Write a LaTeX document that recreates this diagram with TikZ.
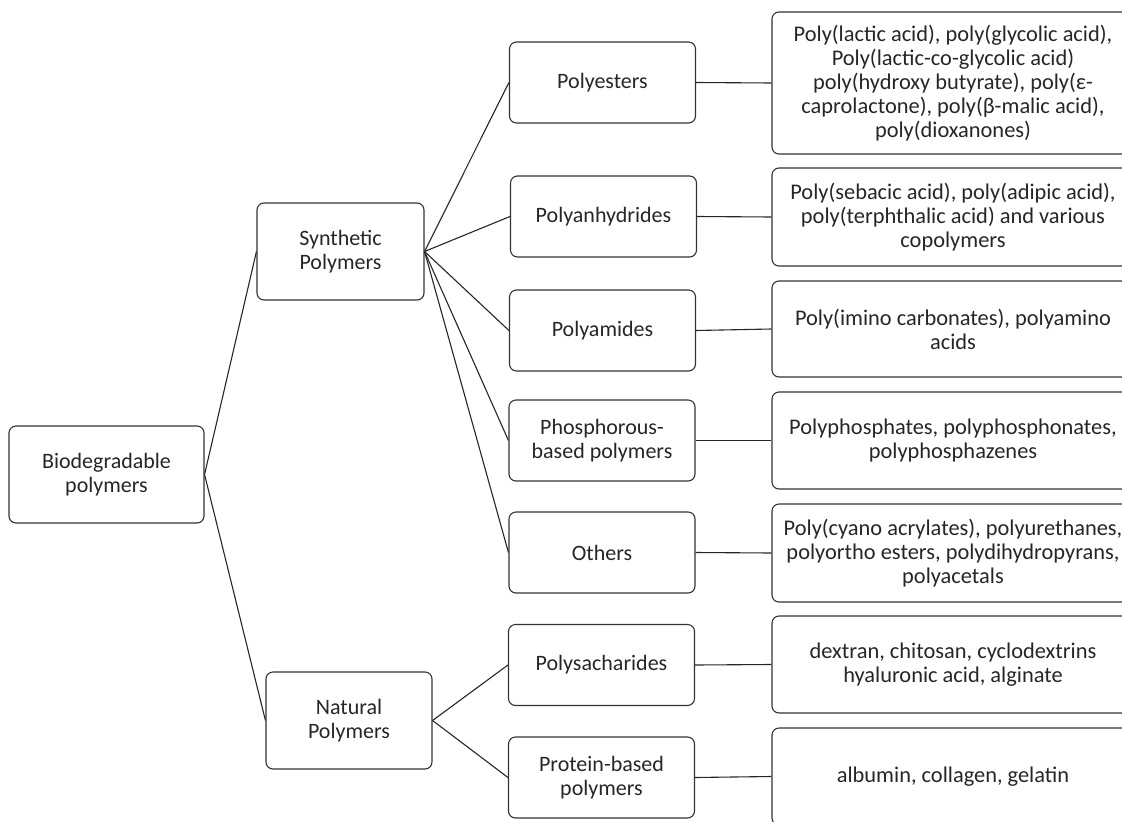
\documentclass[tikz,border=0pt]{standalone}
\usepackage{fontspec}
\setmainfont{Carlito}
\begin{document}
\begin{tikzpicture}[x=1pt,y=-1pt,
  box/.style={draw=black!80, line width=1.1pt, rounded corners=7pt, align=center, text=black!85, inner sep=0pt, font=\fontsize{22}{24}\selectfont},
  lbox/.style={box, minimum height=97pt},
  mbox/.style={box, minimum width=186pt, minimum height=81pt},
  rbox/.style={box, minimum width=362pt, minimum height=97pt, font=\fontsize{22.4}{24}\selectfont},
  link/.style={draw=black!85, line width=1.1pt}]
\useasboundingbox (0,0) rectangle (1122,822);
% left column
\node[lbox, minimum width=195pt] (bio) at (106.5,474.5) {Biodegradable\\polymers};
\node[lbox, minimum width=167pt] (syn) at (340.5,251.5) {Synthetic\\Polymers};
\node[lbox, minimum width=166pt] (nat) at (349,720.5) {Natural\\Polymers};
% middle column
\node[mbox] (m1) at (602.5,82.5) {Polyesters};
\node[mbox] (m2) at (603.5,216.5) {Polyanhydrides};
\node[mbox] (m3) at (602.5,330.5) {Polyamides};
\node[mbox] (m4) at (602,440.5) {Phosphorous-\\based polymers};
\node[mbox] (m5) at (602,552.5) {Others};
\node[mbox] (m6) at (601.5,665) {Polysacharides};
\node[mbox] (m7) at (601.5,777.5) {Protein-based\\polymers};
% right column
\node[rbox, minimum height=142pt] (r1) at (953,83) {Poly(lactic acid), poly(glycolic acid),\\Poly(lactic-co-glycolic acid)\\poly(hydroxy butyrate), poly(ε-\\caprolactone), poly(β-malic acid),\\poly(dioxanones)};
\node[rbox, minimum height=98pt] (r2) at (953,217) {Poly(sebacic acid), poly(adipic acid),\\poly(terphthalic acid) and various\\copolymers};
\node[rbox, minimum height=96pt] (r3) at (953,329) {Poly(imino carbonates), polyamino\\acids};
\node[rbox] (r4) at (953,440.5) {Polyphosphates, polyphosphonates,\\polyphosphazenes};
\node[rbox, minimum height=98pt] (r5) at (953,553) {Poly(cyano acrylates), polyurethanes,\\polyortho esters, polydihydropyrans,\\polyacetals};
\node[rbox] (r6) at (953,664.5) {dextran, chitosan, cyclodextrins\\hyaluronic acid, alginate};
\node[rbox] (r7) at (953,776.5) {albumin, collagen, gelatin};
% connectors
\draw[link] (bio.east) -- (syn.west);
\draw[link] (bio.east) -- (nat.west);
\foreach \m in {m1,m2,m3,m4,m5} \draw[link] (syn.east) -- (\m.west);
\foreach \m in {m6,m7} \draw[link] (nat.east) -- (\m.west);
\foreach \i in {1,...,7} \draw[link] (m\i.east) -- (r\i.west);
\end{tikzpicture}
\end{document}
